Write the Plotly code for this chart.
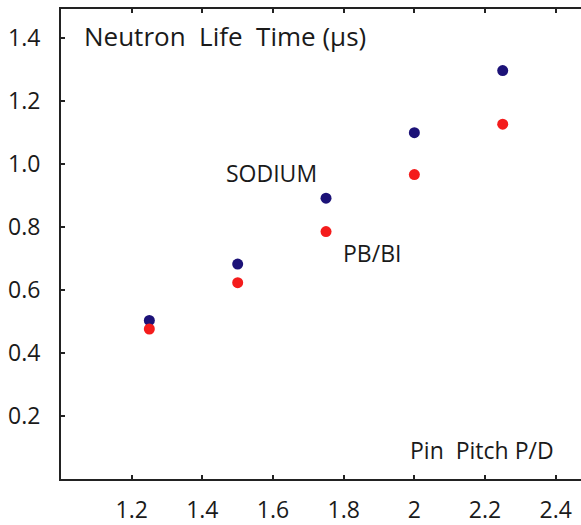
import plotly.graph_objects as go

pitch = [1.25, 1.5, 1.75, 2.0, 2.25]
sodium = [0.503, 0.682, 0.891, 1.099, 1.296]
pbbi = [0.476, 0.623, 0.785, 0.966, 1.126]
xticks = [1.2, 1.4, 1.6, 1.8, 2, 2.2, 2.4]
xticklabels = ["1.2", "1.4", "1.6", "1.8", "2", "2.2", "2.4"]
yticks = [0.2, 0.4, 0.6, 0.8, 1.0, 1.2, 1.4]
yticklabels = ["0.2", "0.4", "0.6", "0.8", "1.0", "1.2", "1.4"]

FONT = "Open Sans"
fig = go.Figure()
fig.add_trace(go.Scatter(x=pitch, y=sodium, mode="markers",
                         marker=dict(color="#1c1278", size=11), name="SODIUM"))
fig.add_trace(go.Scatter(x=pitch, y=pbbi, mode="markers",
                         marker=dict(color="#f41c1c", size=11), name="PB/BI"))

fig.update_layout(
    width=581, height=525,
    margin=dict(l=61, r=0, t=9, b=41),
    paper_bgcolor="white", plot_bgcolor="white",
    showlegend=False,
    font=dict(family=FONT, size=23, color="#1a1a1a"),
    xaxis=dict(range=[1.0, 2.4716], tickvals=xticks, ticktext=xticklabels,
               ticks="inside", ticklen=4, tickwidth=1.5, tickcolor="#222",
               showline=True, linecolor="#222", linewidth=2, mirror="ticks",
               showgrid=False, zeroline=False, ticklabelstandoff=9),
    yaxis=dict(range=[0, 1.4914], tickvals=yticks, ticktext=yticklabels,
               ticks="inside", ticklen=4, tickwidth=1.5, tickcolor="#222",
               showline=True, linecolor="#222", linewidth=2, mirror=False,
               showgrid=False, zeroline=False, ticklabelstandoff=14),
    annotations=[
        dict(x=1.059, y=1.405, xref="x", yref="y", text="Neutron  Life  Time (μs)",
             showarrow=False, xanchor="left", yanchor="middle",
             font=dict(family=FONT, size=26, color="#1a1a1a")),
        dict(x=1.597, y=0.971, xref="x", yref="y", text="SODIUM",
             showarrow=False, xanchor="center", yanchor="middle",
             font=dict(family=FONT, size=23, color="#1a1a1a")),
        dict(x=1.879, y=0.717, xref="x", yref="y", text="PB/BI",
             showarrow=False, xanchor="center", yanchor="middle",
             font=dict(family=FONT, size=23, color="#1a1a1a")),
        dict(x=2.192, y=0.092, xref="x", yref="y", text="Pin  Pitch P/D",
             showarrow=False, xanchor="center", yanchor="middle",
             font=dict(family=FONT, size=23, color="#1a1a1a")),
    ],
)
fig.write_html("out.html")
